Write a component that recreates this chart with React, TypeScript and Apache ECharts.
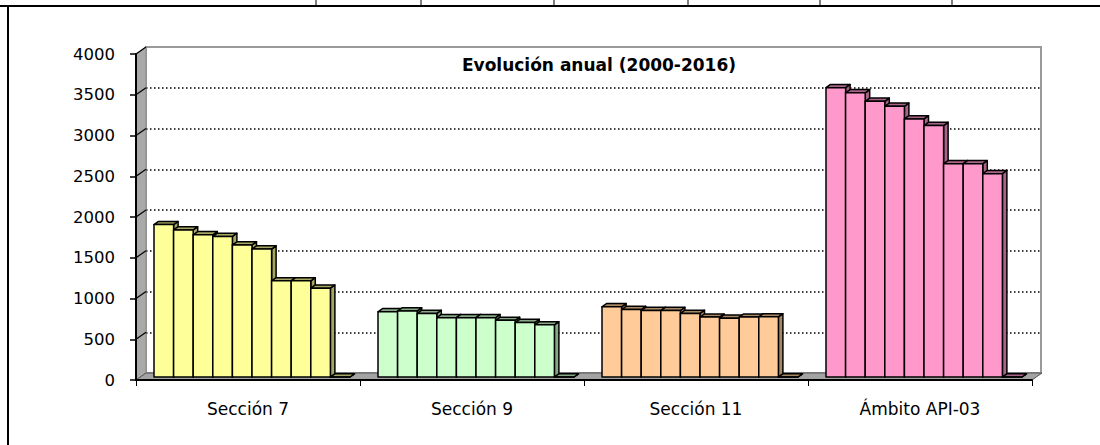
import React, { useEffect, useRef } from "react";
import * as echarts from "echarts";

// ---- data ----
const categories = ["Sección 7", "Sección 9", "Sección 11", "Ámbito API-03"];
const seccion7 = [1870, 1805, 1745, 1725, 1620, 1570, 1180, 1180, 1090, 0];
const seccion9 = [800, 810, 780, 728, 728, 728, 695, 668, 640, 0];
const seccion11 = [862, 828, 816, 816, 780, 735, 722, 735, 738, 0];
const ambitoApi03 = [3550, 3487, 3383, 3322, 3167, 3085, 2617, 2617, 2495, 0];
const yMin = 0;
const yMax = 4000;
const yInterval = 500;
const chartTitle = "Evolución anual (2000-2016)";

// ---- style ----
const faceColors = ["#FFFF99", "#CCFFCC", "#FFCC99", "#FF99CC"];
const shadeColors = ["#A6A663", "#86A886", "#A88763", "#A86388"];
const FONT = "DejaVu Sans";

const groups = [seccion7, seccion9, seccion11, ambitoApi03];
const N = seccion7.length;

// 3D geometry (pixels)
const WALL_DX = 10;
const WALL_DY = -7;
const BAR_SHIFT_X = 4;
const BAR_SHIFT_Y = -3;
const BAR_DX = 4.5;
const BAR_DY = -3.2;
const CAT_GAP = 0.125;

export default function App() {
  const ref = useRef<HTMLDivElement>(null);
  useEffect(() => {
    if (!ref.current) return;
    const chart = echarts.init(ref.current, null, { renderer: "svg" });

    const barData: number[][] = [];
    groups.forEach((g, c) => g.forEach((v, s) => barData.push([c, s, v])));

    const tickValues: number[] = [];
    for (let v = yMin; v <= yMax; v += yInterval) tickValues.push(v);

    const option: any = {
      animation: false,
      backgroundColor: "#ffffff",
      grid: [
        { left: 136, right: 68, top: 54, bottom: 65, show: false },
        {
          left: 146,
          right: 59,
          top: 47,
          bottom: 72,
          show: true,
          backgroundColor: "#ffffff",
          borderColor: "#9a9a9a",
          borderWidth: 2,
          z: 0,
        },
      ],
      xAxis: [
        {
          type: "category",
          gridIndex: 0,
          data: categories,
          z: 10,
          axisLine: { show: true, lineStyle: { color: "#000", width: 2 } },
          axisTick: { show: true, length: 6, lineStyle: { color: "#000", width: 1 } },
          axisLabel: { color: "#000", fontFamily: FONT, fontSize: 17, margin: 20 },
          splitLine: { show: false },
        },
        {
          type: "category",
          gridIndex: 1,
          data: categories,
          show: false,
        },
      ],
      yAxis: [
        {
          type: "value",
          gridIndex: 0,
          min: yMin,
          max: yMax,
          interval: yInterval,
          z: 10,
          axisLine: { show: true, lineStyle: { color: "#000", width: 2 } },
          axisTick: { show: true, length: 6, lineStyle: { color: "#000", width: 1.5 } },
          axisLabel: {
            color: "#000",
            fontFamily: FONT,
            fontSize: 16.5,
            margin: 21,
            formatter: (v: number) => String(v),
          },
          splitLine: { show: false },
        },
        {
          type: "value",
          gridIndex: 1,
          min: yMin,
          max: yMax,
          interval: yInterval,
          axisLine: { show: false },
          axisTick: { show: false },
          axisLabel: { show: false },
          splitLine: {
            show: true,
            showMinLine: false,
            showMaxLine: false,
            lineStyle: { color: "#000", width: 1.5, type: [1.5, 2.5] },
          },
        },
      ],
      series: [
        {
          type: "custom",
          name: "frame",
          xAxisIndex: 0,
          yAxisIndex: 0,
          silent: true,
          z: 1,
          data: [[0, 0]],
          renderItem: (params: any, api: any) => {
            const cs = params.coordSys;
            const left = cs.x;
            const right = cs.x + cs.width;
            const top = cs.y;
            const bottom = cs.y + cs.height;
            const children: any[] = [];
            children.push({
              type: "polygon",
              shape: {
                points: [
                  [left, top],
                  [left + WALL_DX, top + WALL_DY],
                  [left + WALL_DX, bottom + WALL_DY],
                  [left, bottom],
                ],
              },
              style: { fill: "#a9a9a9", stroke: "#8a8a8a", lineWidth: 1 },
            });
            children.push({
              type: "polygon",
              shape: {
                points: [
                  [left, bottom],
                  [left + WALL_DX, bottom + WALL_DY],
                  [right + WALL_DX, bottom + WALL_DY],
                  [right, bottom],
                ],
              },
              style: { fill: "#a3a3a3", stroke: "#555", lineWidth: 1 },
            });
            tickValues.forEach((v) => {
              if (v === yMin) return;
              const p = api.coord([0, v]);
              children.push({
                type: "line",
                shape: { x1: left, y1: p[1], x2: left + WALL_DX, y2: p[1] + WALL_DY },
                style: { stroke: "#000", lineWidth: 1.2 },
              });
            });
            return { type: "group", children };
          },
        },
        {
          type: "custom",
          name: "bars",
          xAxisIndex: 0,
          yAxisIndex: 0,
          z: 3,
          data: barData,
          encode: { x: 0, y: 2 },
          renderItem: (params: any, api: any) => {
            const cat = api.value(0);
            const s = api.value(1);
            const v = api.value(2);
            const base = api.coord([cat, 0]);
            const topP = api.coord([cat, v]);
            const catW = api.size([1, 0])[0];
            const groupW = catW * (1 - CAT_GAP);
            const bw = groupW / N;
            const x0 = base[0] - groupW / 2 + s * bw + BAR_SHIFT_X;
            const x1 = x0 + bw;
            const yb = base[1] + BAR_SHIFT_Y;
            const yt = topP[1] + BAR_SHIFT_Y;
            const face = faceColors[cat];
            const shade = shadeColors[cat];
            const stroke = { stroke: "#000", lineWidth: 1.5, lineJoin: "round" };
            return {
              type: "group",
              children: [
                {
                  type: "polygon",
                  shape: {
                    points: [
                      [x1, yb],
                      [x1 + BAR_DX, yb + BAR_DY],
                      [x1 + BAR_DX, yt + BAR_DY],
                      [x1, yt],
                    ],
                  },
                  style: { fill: shade, ...stroke },
                },
                {
                  type: "polygon",
                  shape: {
                    points: [
                      [x0, yt],
                      [x0 + BAR_DX, yt + BAR_DY],
                      [x1 + BAR_DX, yt + BAR_DY],
                      [x1, yt],
                    ],
                  },
                  style: { fill: shade, ...stroke },
                },
                {
                  type: "rect",
                  shape: { x: x0, y: yt, width: bw, height: Math.max(0, yb - yt) },
                  style: { fill: face, ...stroke },
                },
              ],
            };
          },
        },
      ],
      graphic: [
        {
          type: "text",
          z: 100,
          x: 599,
          y: 65,
          style: {
            text: chartTitle,
            font: `bold 17px "${FONT}"`,
            fill: "#000",
            textAlign: "center",
            textVerticalAlign: "middle",
          },
        },
        {
          type: "line",
          z: 100,
          shape: { x1: 0, y1: 6, x2: 1100, y2: 6 },
          style: { stroke: "#000", lineWidth: 2 },
        },
        {
          type: "line",
          z: 100,
          shape: { x1: 8, y1: 5, x2: 8, y2: 445 },
          style: { stroke: "#000", lineWidth: 2 },
        },
        ...[316, 421, 554, 688, 820, 952].map((x) => ({
          type: "line",
          z: 100,
          shape: { x1: x, y1: 0, x2: x, y2: 6 },
          style: { stroke: "#000", lineWidth: 1 },
        })),
      ],
    };
    chart.setOption(option);
    return () => chart.dispose();
  }, []);
  return (
    <div
      ref={ref}
      style={{ position: "fixed", left: 0, top: 0, width: 1100, height: 445, background: "#fff" }}
    />
  );
}
